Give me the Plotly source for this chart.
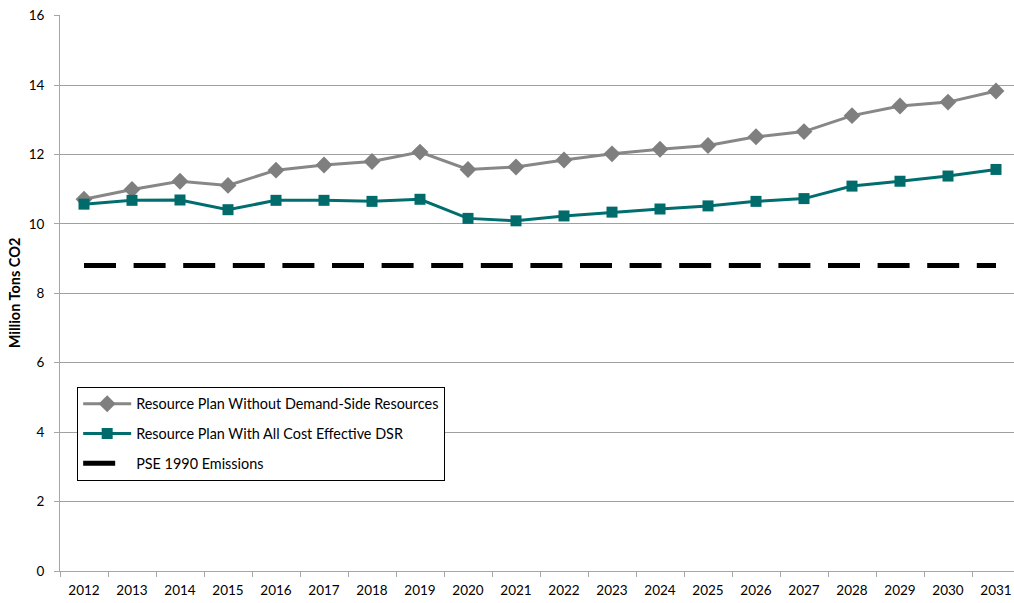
import plotly.graph_objects as go

years = [str(y) for y in range(2012, 2032)]
without_dsr = [10.71, 10.99, 11.23, 11.11, 11.55, 11.70, 11.80, 12.07, 11.57, 11.64,
               11.84, 12.02, 12.15, 12.26, 12.51, 12.66, 13.12, 13.40, 13.51, 13.83]
with_dsr = [10.57, 10.68, 10.69, 10.41, 10.68, 10.68, 10.65, 10.71, 10.16, 10.09,
            10.23, 10.34, 10.43, 10.52, 10.65, 10.73, 11.09, 11.23, 11.38, 11.57]
pse_1990 = [8.8] * len(years)

names = ["Resource Plan Without Demand-Side Resources",
         "Resource Plan With All Cost Effective DSR",
         "PSE 1990 Emissions"]

FONT = "Lato, 'Open Sans', sans-serif"

fig = go.Figure()
fig.add_trace(go.Scatter(
    x=years, y=without_dsr, name=names[0], mode="lines+markers",
    line=dict(color="#878787", width=3),
    marker=dict(symbol="diamond", size=13, color="#7f7f7f", line=dict(width=0)),
    legendgroup="a"))
fig.add_trace(go.Scatter(
    x=years, y=with_dsr, name=names[1], mode="lines+markers",
    line=dict(color="#006e6e", width=3),
    marker=dict(symbol="square", size=11, color="#006b6b", line=dict(width=0)),
    legendgroup="b"))
fig.add_trace(go.Scatter(
    x=years, y=pse_1990, name=names[2], mode="lines",
    line=dict(color="#000000", width=5, dash="32px,17.6px"),
    legendgroup="c"))

fig.update_layout(
    width=1014, height=603,
    margin=dict(l=60, r=0, t=15, b=32, autoexpand=False),
    paper_bgcolor="white", plot_bgcolor="white",
    font=dict(family=FONT, size=13, color="#000000"),
    showlegend=True,
    legend=dict(
        x=0.018, y=0.331, xanchor="left", yanchor="top",
        bgcolor="white", bordercolor="#000000", borderwidth=1,
        font=dict(family=FONT, size=14.4),
        tracegroupgap=8, itemwidth=48,
    ),
    xaxis=dict(
        type="category", range=[-0.5, 19.375],
        showline=True, linecolor="#a6a6a6", linewidth=1,
        ticks="outside", ticklen=5, tickcolor="#a6a6a6", tickson="boundaries",
        showgrid=False, tickfont=dict(size=13.5), ticklabelstandoff=7,
        ticklabeloverflow="allow",
    ),
    yaxis=dict(
        range=[0, 16.02], tickvals=[0, 2, 4, 6, 8, 10, 12, 14, 16],
        showline=True, linecolor="#a6a6a6", linewidth=1,
        ticks="outside", ticklen=5, tickcolor="#a6a6a6",
        showgrid=True, gridcolor="#a0a0a0", gridwidth=1, zeroline=False,
        tickfont=dict(size=13.5), ticklabelstandoff=7, ticklabeloverflow="allow",
        title=dict(text="<b>Million Tons CO2</b>", font=dict(size=14.5), standoff=4),
    ),
)

fig.write_html(
    "out.html",
    config={"displayModeBar": False},
    post_script="document.body.style.margin='0';document.body.style.overflow='hidden';",
)
